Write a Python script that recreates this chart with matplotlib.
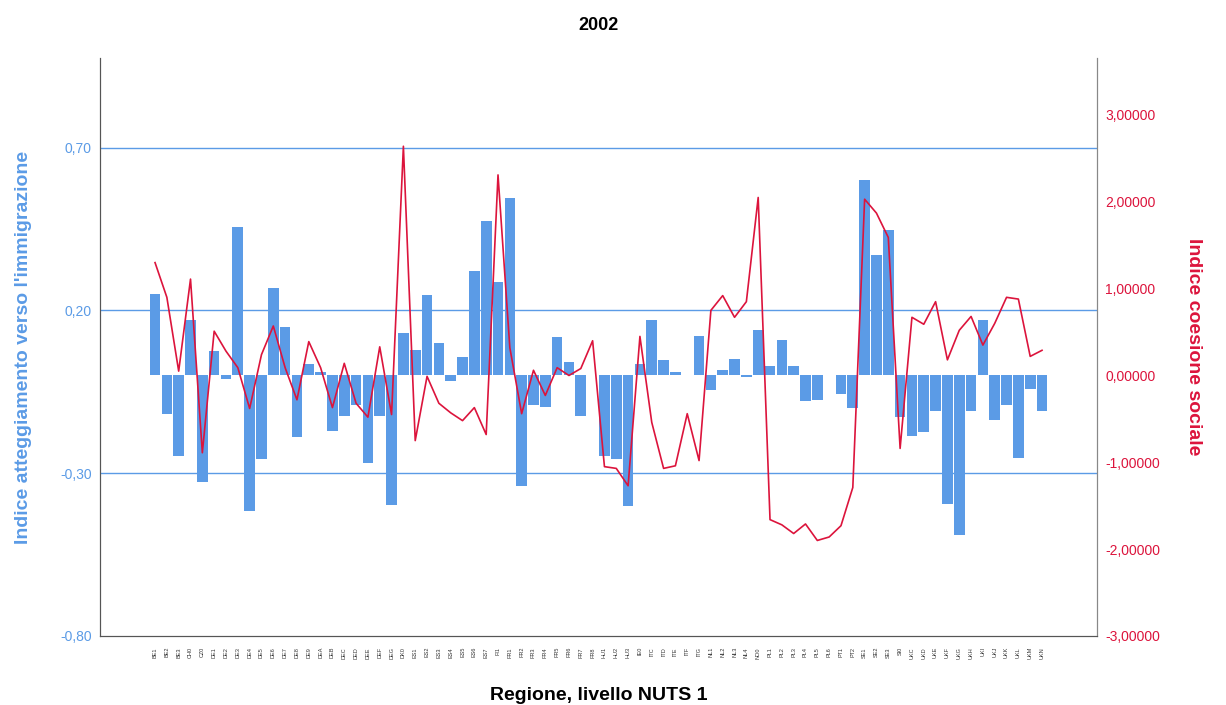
import matplotlib.pyplot as plt
import matplotlib.ticker as mticker

plt.rcParams['font.family'] = ['Liberation Sans', 'DejaVu Sans']

# NUTS 1 regions (x axis)
regions = ['BE1', 'BE2', 'BE3', 'CH0', 'CZ0', 'DE1', 'DE2', 'DE3', 'DE4', 'DE5',
           'DE6', 'DE7', 'DE8', 'DE9', 'DEA', 'DEB', 'DEC', 'DED', 'DEE', 'DEF',
           'DEG', 'DK0', 'ES1', 'ES2', 'ES3', 'ES4', 'ES5', 'ES6', 'ES7', 'FI1',
           'FR1', 'FR2', 'FR3', 'FR4', 'FR5', 'FR6', 'FR7', 'FR8', 'HU1', 'HU2',
           'HU3', 'IE0', 'ITC', 'ITD', 'ITE', 'ITF', 'ITG', 'NL1', 'NL2', 'NL3',
           'NL4', 'NO0', 'PL1', 'PL2', 'PL3', 'PL4', 'PL5', 'PL6', 'PT1', 'PT2',
           'SE1', 'SE2', 'SE3', 'SI0', 'UKC', 'UKD', 'UKE', 'UKF', 'UKG', 'UKH',
           'UKI', 'UKJ', 'UKK', 'UKL', 'UKM', 'UKN']

# Indice atteggiamento verso l'immigrazione (bars, left axis)
immigrazione = [0.25, -0.117, -0.246, 0.17, -0.326, 0.074, -0.01, 0.455, -0.415, -0.258,
                0.27, 0.148, -0.19, 0.034, 0.01, -0.17, -0.123, -0.092, -0.268, -0.123,
                -0.397, 0.132, 0.077, 0.246, 0.10, -0.018, 0.058, 0.32, 0.474, 0.286,
                0.545, -0.34, -0.092, -0.098, 0.117, 0.04, -0.123, 0.002, -0.246, -0.255,
                -0.40, 0.034, 0.17, 0.049, 0.012, 0.002, 0.12, -0.046, 0.018, 0.052,
                -0.006, 0.14, 0.028, 0.11, 0.028, -0.077, -0.074, 0.002, -0.058, -0.10,
                0.60, 0.37, 0.446, -0.126, -0.185, -0.175, -0.11, -0.394, -0.49, -0.11,
                0.17, -0.138, -0.092, -0.252, -0.04, -0.11]

# Indice coesione sociale (line, right axis)
coesione = [1.30, 0.90, 0.05, 1.11, -0.89, 0.51, 0.28, 0.09, -0.38, 0.24,
            0.57, 0.09, -0.28, 0.39, 0.09, -0.37, 0.14, -0.32, -0.48, 0.33,
            -0.45, 2.64, -0.75, -0.01, -0.32, -0.43, -0.52, -0.37, -0.68, 2.31,
            0.32, -0.44, 0.06, -0.23, 0.09, 0.0, 0.08, 0.40, -1.05, -1.07,
            -1.27, 0.45, -0.54, -1.07, -1.04, -0.44, -0.98, 0.75, 0.92, 0.67,
            0.85, 2.05, -1.66, -1.72, -1.82, -1.71, -1.90, -1.86, -1.73, -1.29,
            2.03, 1.87, 1.59, -0.84, 0.67, 0.59, 0.85, 0.18, 0.52, 0.68,
            0.35, 0.60, 0.90, 0.88, 0.22, 0.29]

blue = '#5B9BE6'
red = '#DC143C'
x = list(range(len(regions)))

fig = plt.figure(figsize=(12.26, 7.05), dpi=100)
ax = fig.add_axes([0.0816, 0.0979, 0.8132, 0.8198])
ax2 = ax.twinx()

# gridlines on the left axis
for g in [0.7, 0.2, -0.3]:
    ax.axhline(g, color=blue, linewidth=1.0, zorder=0)

ax.bar(x, immigrazione, width=0.9, color=blue, zorder=2)
ax2.plot(x, coesione, color=red, linewidth=1.2)

ax.set_xlim(-4.65, len(regions) - 1 + 4.65)
ax.set_ylim(-0.8, 0.975)
ax2.set_ylim(-3.0, 3.656)

ax.set_yticks([-0.8, -0.3, 0.2, 0.7])
ax.yaxis.set_major_formatter(mticker.FuncFormatter(lambda v, p: f'{v:.2f}'.replace('.', ',')))
ax2.set_yticks([-3, -2, -1, 0, 1, 2, 3])
ax2.yaxis.set_major_formatter(mticker.FuncFormatter(lambda v, p: f'{v:.5f}'.replace('.', ',')))

ax.set_xticks(x)
ax.set_xticklabels(regions, rotation=90, fontsize=4, color='#333333')
ax.tick_params(axis='x', length=0, pad=8)
ax.tick_params(axis='y', colors=blue, labelsize=10, length=0, pad=6)
ax2.tick_params(axis='y', colors=red, labelsize=10, length=0, pad=6)

for a in (ax, ax2):
    a.spines['top'].set_visible(False)
    a.spines['left'].set_color('#555555')
    a.spines['right'].set_color('#888888')
    a.spines['bottom'].set_color('#555555')

ax.set_ylabel("Indice atteggiamento verso l'immigrazione", color=blue,
              fontsize=14, fontweight='bold', labelpad=20)
ax2.set_ylabel('Indice coesione sociale', color=red, fontsize=14,
               fontweight='bold', rotation=270, labelpad=30)
ax.set_xlabel('Regione, livello NUTS 1', fontsize=14, fontweight='bold', labelpad=20)
ax.set_title('2002', fontsize=13, fontweight='bold', pad=20)

fig.savefig('out.png', dpi=100)
